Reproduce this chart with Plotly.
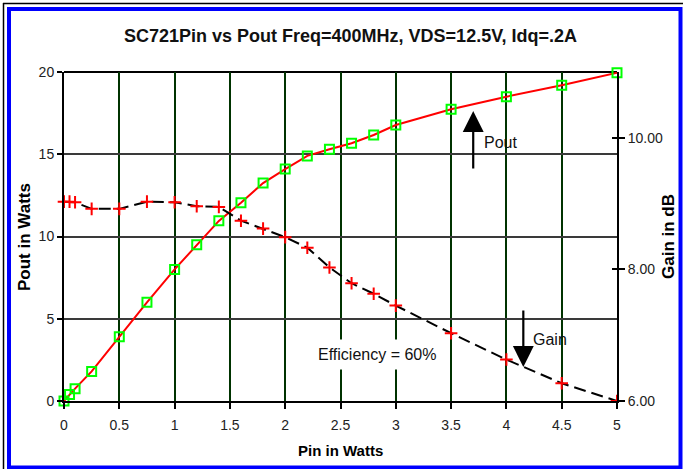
import plotly.graph_objects as go

# ---- data ----
pin = [0, 0.05, 0.1, 0.25, 0.5, 0.75, 1.0, 1.2, 1.4, 1.6, 1.8, 2.0, 2.2, 2.4, 2.6, 2.8, 3.0, 3.5, 4.0, 4.5, 5.0]
pout = [0.0, 0.4, 0.75, 1.8, 3.9, 6.0, 8.0, 9.5, 10.95, 12.05, 13.25, 14.1, 14.9, 15.3, 15.67, 16.17, 16.78, 17.73, 18.5, 19.2, 19.95]
gain = [9.03, 9.03, 9.02, 8.92, 8.92, 9.03, 9.02, 8.96, 8.95, 8.74, 8.62, 8.49, 8.33, 8.03, 7.79, 7.63, 7.45, 7.03, 6.63, 6.27, 6.0]

x_ticks = [0, 0.5, 1, 1.5, 2, 2.5, 3, 3.5, 4, 4.5, 5]
y_ticks = [0, 5, 10, 15, 20]
y2_ticks = [6, 8, 10]

title_text = "SC721Pin vs Pout Freq=400MHz, VDS=12.5V, Idq=.2A"

W, H = 683, 469
L, R, T, B = 64, 617, 72, 401


def px2x(px):
    return (px - L) / (R - L)


def px2y(py):
    return (B - py) / (B - T)


FONT = "Liberation Sans, Arial, sans-serif"

fig = go.Figure()

fig.add_trace(go.Scatter(
    x=pin, y=gain, yaxis="y2", mode="lines+markers", cliponaxis=False,
    line=dict(color="black", width=2, dash="12px,6px"),
    marker=dict(symbol="cross-thin", size=9, line=dict(color="red", width=2), color="red"),
    showlegend=False,
))
fig.add_trace(go.Scatter(
    x=pin, y=pout, mode="lines+markers", cliponaxis=False,
    line=dict(color="red", width=2),
    marker=dict(symbol="square-open", size=9, color="#00ff00", line=dict(color="#00ff00", width=2)),
    showlegend=False,
))

fig.update_layout(
    width=W, height=H, autosize=False,
    margin=dict(l=L, r=W - R, t=T, b=H - B),
    paper_bgcolor="white", plot_bgcolor="white",
    font=dict(family=FONT, size=14, color="#222"),
    xaxis=dict(
        range=[0, 5], tickvals=x_ticks, showgrid=True, gridcolor="#003300", gridwidth=2,
        showline=True, linecolor="black", linewidth=2, mirror=False,
        ticks="outside", ticklen=6, tickwidth=2, tickcolor="black", ticklabelstandoff=4,
        zeroline=False, tickfont=dict(size=14, color="#222"),
    ),
    yaxis=dict(
        range=[0, 20], tickvals=y_ticks, showgrid=True, gridcolor="#3a3a3a", gridwidth=2,
        showline=True, linecolor="black", linewidth=2,
        ticks="outside", ticklen=5, tickwidth=2, tickcolor="black",
        zeroline=False, tickfont=dict(size=14, color="#222"),
    ),
    yaxis2=dict(
        range=[6, 11], tickvals=y2_ticks, tickformat=".2f", overlaying="y", side="right",
        showgrid=False, showline=True, linecolor="black", linewidth=2,
        ticks="outside", ticklen=6, tickwidth=2, tickcolor="black",
        zeroline=False, tickfont=dict(size=14, color="#222"),
    ),
    yaxis3=dict(
        range=[6, 11], tickvals=y2_ticks, overlaying="y", side="right", anchor="x",
        showgrid=False, showline=False, showticklabels=False,
        ticks="inside", ticklen=5, tickwidth=2, tickcolor="black", zeroline=False,
    ),
)

# invisible trace to activate yaxis3
fig.add_trace(go.Scatter(x=[None], y=[None], yaxis="y3", showlegend=False, hoverinfo="skip"))

C = dict(xanchor="center", yanchor="middle", showarrow=False)
annos = [
    dict(text="<b>" + title_text + "</b>", x=px2x(350), y=px2y(36), xref="paper", yref="paper",
         font=dict(size=18, color="#111"), **C),
    dict(text="<b>Pout in Watts</b>", x=px2x(24), y=px2y(237), xref="paper", yref="paper",
         textangle=-90, font=dict(size=17, color="black"), **C),
    dict(text="<b>Gain in dB</b>", x=px2x(668), y=px2y(237), xref="paper", yref="paper",
         textangle=-90, font=dict(size=17, color="black"), **C),
    dict(text="<b>Pin in Watts</b>", x=px2x(340), y=px2y(450), xref="paper", yref="paper",
         font=dict(size=15, color="black"), **C),
    # arrows
    dict(text="", x=3.70, y=17.63, ax=3.70, ay=14.04, xref="x", yref="y", axref="x", ayref="y",
         showarrow=True, arrowhead=2, arrowsize=1.9, arrowwidth=2.2, arrowcolor="black"),
    dict(text="", x=4.153, y=2.07, ax=4.153, ay=5.59, xref="x", yref="y", axref="x", ayref="y",
         showarrow=True, arrowhead=2, arrowsize=1.9, arrowwidth=2.2, arrowcolor="black"),
    dict(text="Pout", x=3.95, y=15.74, xref="x", yref="y",
         font=dict(size=16, color="#111"), **C),
    dict(text="Gain", x=4.39, y=3.71, xref="x", yref="y",
         font=dict(size=16, color="#111"), **C),
    dict(text="Efficiency = 60%", x=2.83, y=2.80, xref="x", yref="y",
         bgcolor="white", borderpad=6, font=dict(size=16, color="#111"), **C),
]
fig.update_layout(annotations=annos)

# frame borders
shapes = [
    dict(type="line", xref="paper", yref="paper", x0=px2x(3), x1=px2x(683), y0=px2y(3.5), y1=px2y(3.5),
         line=dict(color="black", width=1.5)),
    dict(type="line", xref="paper", yref="paper", x0=px2x(3.5), x1=px2x(3.5), y0=px2y(3), y1=px2y(469),
         line=dict(color="black", width=1.5)),
    dict(type="rect", xref="paper", yref="paper", x0=px2x(9), x1=px2x(680.5), y0=px2y(9), y1=px2y(467.5),
         line=dict(color="#0000ff", width=4)),
    dict(type="line", xref="paper", yref="paper", x0=0, x1=1, y0=1, y1=1,
         line=dict(color="black", width=2), layer="below"),
]
fig.update_layout(shapes=shapes)

fig.write_html(
    "out.html",
    config={"displayModeBar": False},
    post_script="document.body.style.margin='0';document.body.style.overflow='hidden';",
)
